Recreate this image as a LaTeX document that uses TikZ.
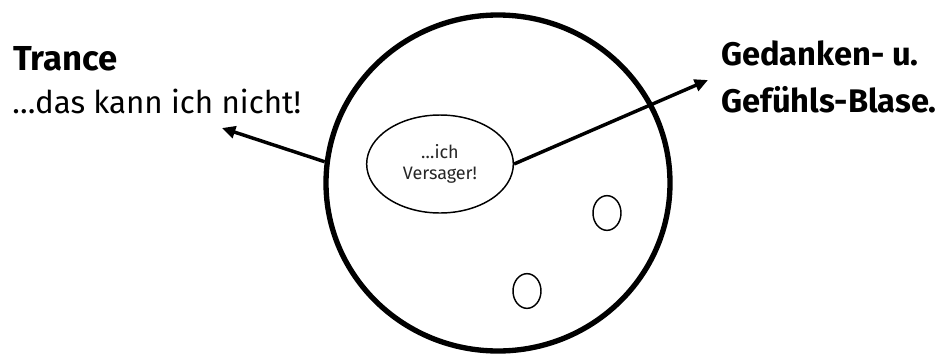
\documentclass[tikz,border=0pt]{standalone}
\usepackage{fontspec}
\setmainfont{Fira Sans}
\usepackage{tikz}
\usetikzlibrary{
  shapes.geometric,
  arrows.meta,
  positioning
}

\begin{document}
\begin{tikzpicture}[
    x=0.75pt, y=-0.75pt,
    bubble/.style={
      ellipse,
      draw=black,
      line width=4pt,
      inner sep=0pt,
      minimum width=258pt,
      minimum height=252pt
    },
    thought/.style={
      ellipse,
      draw=black,
      line width=1.1pt,
      inner sep=0pt,
      minimum width=110pt,
      minimum height=73.5pt,
      font=\fontsize{13.5}{16}\selectfont,
      text=black!85,
      align=center
    },
    dot/.style={
      ellipse,
      draw=black,
      line width=1.1pt,
      inner sep=0pt,
      minimum width=21pt,
      minimum height=26pt
    },
    pointer/.style={
      -{Triangle[length=10pt,width=9pt]},
      line width=2.6pt,
      color=black
    },
    head/.style={
      anchor=base west,
      inner sep=0pt,
      font=\bfseries\fontsize{26}{30}\selectfont
    },
    sub/.style={
      anchor=base west,
      inner sep=0pt,
      font=\fontsize{23.5}{28}\selectfont
    },
    blase/.style={
      anchor=base west,
      inner sep=0pt,
      font=\bfseries\fontsize{24.5}{29}\selectfont
    }
  ]
    \useasboundingbox (0,0) rectangle (946,354);

    % ---- Big bubble and what is inside ----
    \node[bubble]  (bubble)  at (498, 183) {};
    \node[thought] (versager) at (440, 164) {\ldots ich\\Versager!};
    \node[dot]     (dotA)    at (607, 213) {};
    \node[dot]     (dotB)    at (527, 291) {};

    % ---- Labels ----
    \node[head]  (trance)   at (13, 70)   {Trance};
    \node[sub]   (nicht)    at (12, 113)  {…das kann ich nicht!};
    \node[blase] (gedanken) at (721, 65)  {Gedanken- u.};
    \node[blase] (gefuehl)  at (721, 112) {Gefühls-Blase.};

    % ---- Arrow tips ----
    \coordinate (tranceTip) at (222, 128);
    \coordinate (blaseTip)  at (708, 80);

    % ---- Arrows ----
    \draw[pointer] (bubble.173) -- (tranceTip);
    \draw[pointer] (versager.east) -- (blaseTip);
  \end{tikzpicture}
\end{document}
